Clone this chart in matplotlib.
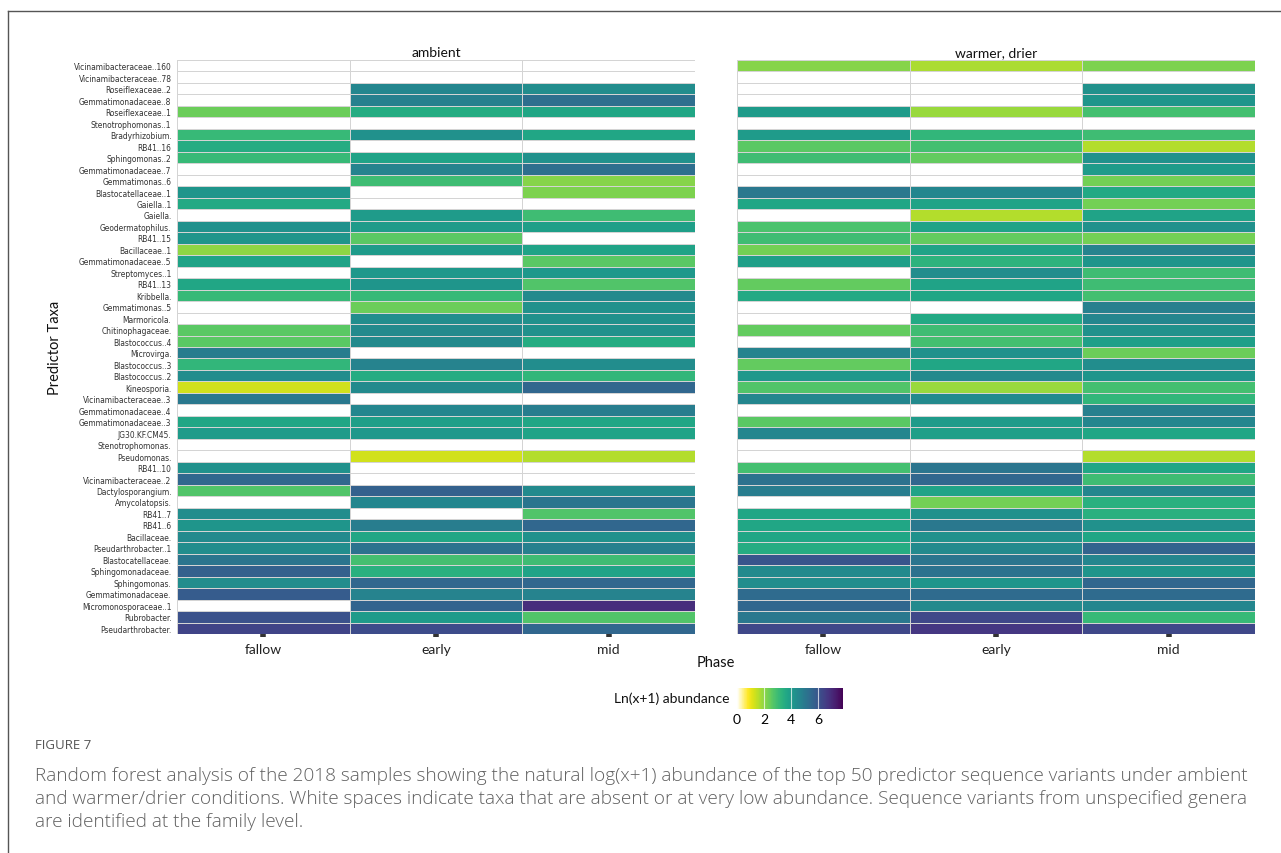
import numpy as np
import matplotlib
matplotlib.use("Agg")
import matplotlib.pyplot as plt
from matplotlib import font_manager
from matplotlib.colors import LinearSegmentedColormap, Normalize
from matplotlib.lines import Line2D

# ---- data: Ln(x+1) abundance of the top 50 predictor taxa (top to bottom) ----
taxa = [
    "Vicinamibacteraceae..160", "Vicinamibacteraceae..78", "Roseiflexaceae..2",
    "Gemmatimonadaceae..8", "Roseiflexaceae..1", "Stenotrophomonas..1",
    "Bradyrhizobium.", "RB41..16", "Sphingomonas..2", "Gemmatimonadaceae..7",
    "Gemmatimonas..6", "Blastocatellaceae..1", "Gaiella..1", "Gaiella.",
    "Geodermatophilus.", "RB41..15", "Bacillaceae..1", "Gemmatimonadaceae..5",
    "Streptomyces..1", "RB41..13", "Kribbella.", "Gemmatimonas..5",
    "Marmoricola.", "Chitinophagaceae.", "Blastococcus..4", "Microvirga.",
    "Blastococcus..3", "Blastococcus..2", "Kineosporia.", "Vicinamibacteraceae..3",
    "Gemmatimonadaceae..4", "Gemmatimonadaceae..3", "JG30.KF.CM45.",
    "Stenotrophomonas.", "Pseudomonas.", "RB41..10", "Vicinamibacteraceae..2",
    "Dactylosporangium.", "Amycolatopsis.", "RB41..7", "RB41..6", "Bacillaceae.",
    "Pseudarthrobacter..1", "Blastocatellaceae.", "Sphingomonadaceae.",
    "Sphingomonas.", "Gemmatimonadaceae.", "Micromonosporaceae..1",
    "Rubrobacter.", "Pseudarthrobacter.",
]

phases = ["fallow", "early", "mid"]
treatments = ["ambient", "warmer, drier"]

ambient_fallow = [0, 0, 0, 0, 2.4, 0, 3.1, 3.5, 3.1, 0,
                  0, 4.2, 3.6, 0, 4.3, 4.2, 2.0, 3.8, 0, 3.7,
                  3.1, 0, 0, 2.6, 2.6, 4.9, 3.2, 4.4, 1.3, 5.0,
                  0, 3.7, 4.0, 0, 0, 4.3, 5.5, 2.7, 0, 4.4,
                  4.2, 4.5, 4.4, 5.1, 5.7, 4.4, 5.8, 0, 6.1, 6.4]
ambient_early = [0, 0, 4.6, 4.8, 3.5, 0, 4.3, 0, 3.8, 4.7,
                 3.0, 0, 0, 4.0, 4.0, 2.6, 4.0, 0, 4.1, 4.2,
                 3.1, 2.4, 4.4, 4.5, 4.5, 0, 4.7, 3.5, 4.5, 0,
                 4.6, 3.9, 4.1, 0, 1.3, 0, 0, 5.7, 4.6, 0,
                 4.9, 3.7, 5.2, 2.9, 3.4, 5.5, 4.7, 5.6, 4.0, 6.2]
ambient_mid = [0, 0, 4.4, 5.3, 3.7, 0, 3.7, 0, 4.3, 5.3,
               2.1, 2.2, 0, 3.0, 3.9, 0, 3.8, 2.6, 4.1, 2.7,
               4.5, 4.3, 4.3, 4.3, 3.5, 0, 4.4, 3.2, 5.5, 0,
               4.9, 3.7, 3.8, 0, 1.6, 0, 0, 4.5, 5.1, 2.7,
               5.5, 4.3, 4.8, 3.0, 3.8, 5.5, 4.7, 6.9, 2.7, 5.5]

warm_fallow = [2.1, 0, 0, 0, 4.0, 0, 4.0, 2.6, 3.0, 0,
               0, 5.0, 3.7, 0, 2.8, 3.0, 2.3, 3.9, 0, 2.5,
               3.6, 0, 0, 2.5, 0, 4.7, 2.5, 4.1, 2.7, 4.6,
               0, 2.6, 4.6, 0, 0, 2.9, 5.2, 4.9, 0, 3.7,
               3.7, 3.7, 3.5, 6.0, 4.5, 4.4, 5.4, 5.5, 5.0, 6.3]
warm_early = [1.7, 0, 0, 0, 1.9, 0, 3.2, 2.9, 2.5, 0,
              0, 4.6, 3.8, 1.6, 3.8, 2.5, 3.8, 3.3, 4.4, 3.8,
              3.7, 0, 3.6, 3.0, 2.9, 4.3, 3.7, 4.5, 1.9, 4.5,
              0, 4.0, 3.9, 0, 0, 5.1, 5.5, 3.8, 2.3, 4.3,
              5.0, 4.3, 4.5, 5.1, 5.2, 4.2, 5.4, 4.5, 6.3, 6.7]
warm_mid = [2.2, 0, 4.3, 4.2, 2.9, 0, 3.0, 1.6, 4.3, 4.0,
            2.3, 3.6, 2.3, 3.8, 4.3, 2.3, 4.7, 4.2, 3.0, 3.0,
            2.9, 4.8, 4.6, 4.3, 3.9, 2.4, 4.4, 4.2, 2.9, 3.2,
            4.8, 4.6, 3.7, 0, 1.6, 3.7, 3.0, 4.6, 3.4, 3.4,
            4.3, 3.7, 5.6, 4.6, 4.2, 5.5, 5.4, 4.6, 3.1, 6.3]

panels = {
    "ambient": np.column_stack([ambient_fallow, ambient_early, ambient_mid]),
    "warmer, drier": np.column_stack([warm_fallow, warm_early, warm_mid]),
}

# ---- colour scale: white for absent, then reversed viridis ----
vmax = 7.85
v_start = 0.8
vir = plt.get_cmap("viridis")
p0 = v_start / vmax
stops = [(0.0, (1, 1, 1, 1))]
for p in np.linspace(p0, 1.0, 64):
    stops.append((p, vir(1.0 - (p - p0) / (1.0 - p0))))
cmap = LinearSegmentedColormap.from_list("abund", stops)
norm = Normalize(vmin=0, vmax=vmax)

W, H = 1281, 854
fig = plt.figure(figsize=(W / 100, H / 100), dpi=100)

main_font = ["Lato", "DejaVu Sans"]

# condensed face for the long taxon names
label_kw = dict(family=["DejaVu Sans"], fontsize=5.2)
_narrow = [f for f in font_manager.fontManager.ttflist
           if f.name == "Liberation Sans Narrow" and f.weight in (400, "normal", "regular")]
_cond = [f for f in font_manager.fontManager.ttflist
         if f.name == "DejaVu Sans" and "ondensed" in f.fname and "Bold" not in f.fname
         and "Oblique" not in f.fname]
if _narrow:
    label_kw = dict(family=["Liberation Sans Narrow"], fontsize=6.6)
elif _cond:
    label_kw = dict(fontproperties=font_manager.FontProperties(fname=_cond[0].fname, size=6.0))


def fx(px):
    return px / W


def fy(py):
    return 1 - py / H


top_px, bot_px = 61, 635
panel_x = [(177, 695), (737, 1255)]

for i, (name, mat) in enumerate(panels.items()):
    x0, x1 = panel_x[i]
    ax = fig.add_axes([fx(x0), fy(bot_px), fx(x1 - x0), (bot_px - top_px) / H])
    ax.pcolormesh(np.arange(len(phases) + 1), np.arange(len(taxa) + 1), mat,
                  cmap=cmap, norm=norm, edgecolors="#d4d4d4", linewidth=0.6)
    ax.set_xlim(0, len(phases))
    ax.set_ylim(len(taxa), 0)
    for s in ax.spines.values():
        s.set_visible(False)
    ax.set_xticks(np.arange(len(phases)) + 0.5)
    ax.set_xticklabels(phases, fontsize=10, family=main_font, color="#222222")
    ax.tick_params(axis="x", length=2.5, width=4, color="#333333", pad=4)
    if i == 0:
        ax.set_yticks(np.arange(len(taxa)) + 0.5)
        ax.set_yticklabels(taxa, color="#333333", **label_kw)
        ax.tick_params(axis="y", length=0, pad=4)
    else:
        ax.set_yticks([])
    ax.set_title(name, fontsize=10, family=main_font, color="#111111", pad=3)

fig.text(fx(716), fy(663), "Phase", ha="center", va="center",
         fontsize=10.5, family=main_font, color="#111111")
fig.text(fx(55), fy(348), "Predictor Taxa", ha="center", va="center",
         rotation=90, fontsize=10.5, family=main_font, color="#111111")

# ---- colour bar ----
cax = fig.add_axes([fx(737), fy(710), fx(843 - 737), 21 / H])
sm = matplotlib.cm.ScalarMappable(norm=norm, cmap=cmap)
cb = fig.colorbar(sm, cax=cax, orientation="horizontal")
cb.outline.set_visible(False)
cb.set_ticks([0, 2, 4, 6])
cb.ax.tick_params(length=0, labelsize=10, pad=3)
for t in cb.ax.get_xticklabels():
    t.set_family(main_font)
for v in [2, 4, 6]:
    cax.axvline(v, color="white", lw=0.8, alpha=0.7)
fig.text(fx(729), fy(699), "Ln(x+1) abundance", ha="right", va="center",
         fontsize=10, family=main_font, color="#111111")

# ---- caption ----
cap_font = ["Open Sans", "DejaVu Sans"]
fig.text(fx(35), fy(746), "FIGURE 7", ha="left", va="center",
         fontsize=9.5, family=cap_font, color="#555555")
caption = [
    "Random forest analysis of the 2018 samples showing the natural log(x+1) abundance of the top 50 predictor sequence variants under ambient",
    "and warmer/drier conditions. White spaces indicate taxa that are absent or at very low abundance. Sequence variants from unspecified genera",
    "are identified at the family level.",
]
for k, line in enumerate(caption):
    fig.text(fx(35), fy(776 + 23 * k), line, ha="left", va="center",
             fontsize=13.7, family=cap_font, color="#606060", fontweight="light")

# ---- frame lines ----
fig.add_artist(Line2D([fx(8), 1], [fy(12), fy(12)], transform=fig.transFigure,
                      color="#555555", lw=1))
fig.add_artist(Line2D([fx(8), fx(8)], [fy(12), 0], transform=fig.transFigure,
                      color="#555555", lw=1))

fig.savefig("out.png", dpi=100)
